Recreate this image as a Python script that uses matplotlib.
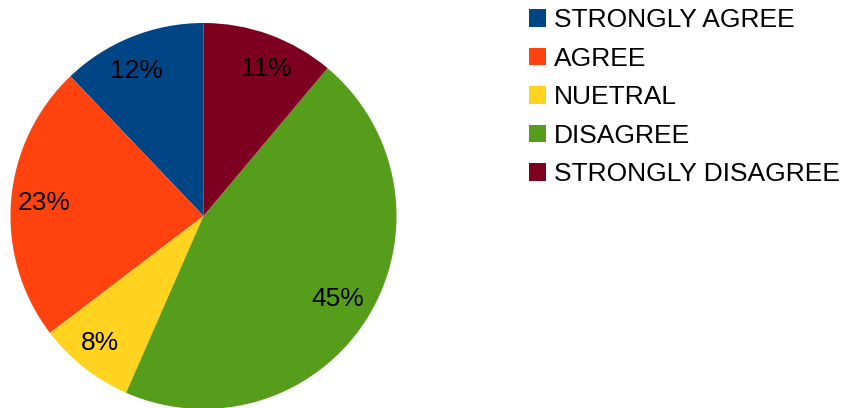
import numpy as np
import matplotlib
matplotlib.use("Agg")
import matplotlib.pyplot as plt
from matplotlib.patches import Patch

plt.rcParams["font.family"] = ["Liberation Sans", "DejaVu Sans"]

categories = ["STRONGLY AGREE", "AGREE", "NUETRAL", "DISAGREE", "STRONGLY DISAGREE"]
percents = [12, 23, 8, 45, 11]
colors = ["#004586", "#ff420e", "#ffd320", "#579d1c", "#7e0021"]

W, H = 847, 408
fig = plt.figure(figsize=(W / 100, H / 100), dpi=100)

# square axes for the pie, sized in pixels
cx, cy, r = 203.5, 216, 193
ax = fig.add_axes([(cx - r) / W, (H - cy - r) / H, 2 * r / W, 2 * r / H])
wedges, _ = ax.pie(percents, colors=colors, startangle=90, counterclock=True,
                   radius=1, wedgeprops=dict(linewidth=0))
ax.set_xlim(-1, 1)
ax.set_ylim(-1, 1)
ax.set_aspect("equal")
ax.axis("off")

# label radius and small angular nudge (deg) per slice
label_dist = [0.83, 0.83, 0.85, 0.82, 0.83]
label_turn = [3, 0, -1, 0, -3]
for w, p, d, t in zip(wedges, percents, label_dist, label_turn):
    mid = np.deg2rad((w.theta1 + w.theta2) / 2 + t)
    ax.text(d * np.cos(mid), d * np.sin(mid), f"{p}%", ha="center", va="center",
            fontsize=19, color="#000000")

handles = [Patch(facecolor=c, edgecolor="none") for c in colors]
fig.legend(handles, categories, loc="upper left",
           bbox_to_anchor=(516 / W, 1 + 5 / H), frameon=False,
           fontsize=19, handlelength=0.65, handleheight=0.65,
           handletextpad=0.3, labelspacing=0.55, borderpad=0.0)

fig.savefig("out.png", dpi=100)
